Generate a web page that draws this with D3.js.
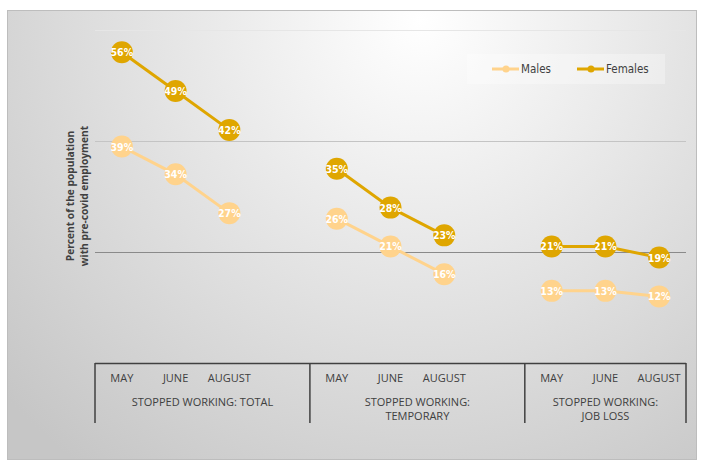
<!DOCTYPE html>
<html><head><meta charset="utf-8">
<script src="https://cdn.jsdelivr.net/npm/d3@7/dist/d3.min.js"></script>
<style>body{margin:0;background:#fff}svg{display:block}</style>
</head><body><svg id="c" width="702" height="466"></svg>
<script>
// Data
const months = ["MAY","JUNE","AUGUST","","MAY","JUNE","AUGUST","","MAY","JUNE","AUGUST"];
const groups = [
  {name:["STOPPED WORKING: TOTAL"], start:0, end:4},
  {name:["STOPPED WORKING:","TEMPORARY"], start:4, end:8},
  {name:["STOPPED WORKING:","JOB LOSS"], start:8, end:11}
];
const males   = [39,34,27,null,26,21,16,null,13,13,12];
const females = [56,49,42,null,35,28,23,null,21,21,19];
const yTicks = [0,20,40,60];
const seriesNames = ["Males","Females"];

const font = "'Open Sans',Arial,sans-serif";
const cfont = "'DejaVu Sans Condensed','Liberation Sans Narrow',Arial,sans-serif";
const colMale = "#FFD38C", colFemale = "#DFA600";

const svg = d3.select("#c");
const defs = svg.append("defs");
const rg = defs.append("radialGradient").attr("id","bg")
  .attr("gradientUnits","userSpaceOnUse").attr("cx",420).attr("cy",20).attr("r",560);
rg.append("stop").attr("offset","0%").attr("stop-color","#ffffff");
rg.append("stop").attr("offset","100%").attr("stop-color","#c6c6c6");

svg.append("rect").attr("x",7.5).attr("y",10.5).attr("width",689).attr("height",449)
  .attr("fill","url(#bg)").attr("stroke","#bdbdbd").attr("stroke-width",1);

const x0 = 95, x1 = 686, yTop = 30, yBot = 363;
const x = d3.scaleBand().domain(d3.range(months.length)).range([x0,x1]).padding(0);
const y = d3.scaleLinear().domain([0,60]).range([yBot,yTop]);

// gridlines
svg.append("g").selectAll("line").data(yTicks.filter(t=>t>0)).join("line")
  .attr("x1",x0).attr("x2",x1)
  .attr("y1",d=>Math.round(y(d))+0.5).attr("y2",d=>Math.round(y(d))+0.5)
  .attr("stroke",d=>d===20?"#8a8a8a":(d===60?"#e6e6e6":"#c4c4c4")).attr("stroke-width",1);

// category axis
const ax = svg.append("g");
ax.append("line").attr("x1",x0).attr("x2",x1).attr("y1",yBot+0.5).attr("y2",yBot+0.5)
  .attr("stroke","#404040").attr("stroke-width",1.5);
const seps = [0,4,8,11].map(i=> i<months.length ? x(i) : x1);
ax.selectAll("line.sep").data(seps).join("line").attr("class","sep")
  .attr("x1",d=>d).attr("x2",d=>d).attr("y1",yBot).attr("y2",423)
  .attr("stroke","#404040").attr("stroke-width",1.5);
ax.selectAll("text.m").data(months.map((m,i)=>({m,i})).filter(d=>d.m)).join("text").attr("class","m")
  .attr("x",d=>x(d.i)+x.bandwidth()/2).attr("y",382)
  .attr("text-anchor","middle").attr("font-family",font).attr("font-size",11).attr("fill","#404040")
  .text(d=>d.m);
groups.forEach(g=>{
  const cx = (x(g.start) + (g.end<months.length?x(g.end):x1))/2;
  g.name.forEach((t,k)=>{
    ax.append("text").attr("x",cx).attr("y",406+k*14).attr("text-anchor","middle")
      .attr("font-family",font).attr("font-size",11).attr("fill","#404040").text(t);
  });
});

// y title
const yt = svg.append("text").attr("transform","translate(77,196) rotate(-90)")
  .attr("text-anchor","middle").attr("font-family","'Open Sans',Arial,sans-serif").attr("font-size",10.2)
  .attr("font-weight","bold").attr("fill","#404040");
yt.append("tspan").attr("x",0).attr("dy","-0.25em").text("Percent of the population");
yt.append("tspan").attr("x",0).attr("dy","1.3em").text("with pre-covid employment");

// series
const line = d3.line().defined(d=>d.v!=null).x(d=>x(d.i)+x.bandwidth()/2).y(d=>y(d.v));
[[males,colMale],[females,colFemale]].forEach(([vals,col])=>{
  const pts = vals.map((v,i)=>({v,i}));
  svg.append("path").datum(pts).attr("d",line).attr("fill","none").attr("stroke",col).attr("stroke-width",3);
  const g = svg.append("g");
  g.selectAll("circle").data(pts.filter(d=>d.v!=null)).join("circle")
    .attr("cx",d=>x(d.i)+x.bandwidth()/2).attr("cy",d=>y(d.v)).attr("r",11).attr("fill",col);
  g.selectAll("text").data(pts.filter(d=>d.v!=null)).join("text")
    .attr("x",d=>x(d.i)+x.bandwidth()/2).attr("y",d=>y(d.v)+4)
    .attr("text-anchor","middle").attr("font-family",cfont).attr("font-size",10.5)
    .attr("font-weight","bold").attr("fill","#ffffff").text(d=>d.v+"%");
});

// legend
const lg = svg.append("g");
lg.append("rect").attr("x",467).attr("y",54).attr("width",198).attr("height",30).attr("fill","#ffffff").attr("opacity",0.3);
[[colMale,492,"Males"],[colFemale,577,"Females"]].forEach(([col,lx,t])=>{
  lg.append("line").attr("x1",lx).attr("x2",lx+27).attr("y1",69).attr("y2",69).attr("stroke",col).attr("stroke-width",3);
  lg.append("circle").attr("cx",lx+14).attr("cy",69).attr("r",3.5).attr("fill",col);
  lg.append("text").attr("x",lx+29).attr("y",73).attr("font-family",cfont).attr("font-size",11.5).attr("fill","#404040").text(t);
});
</script></body></html>
